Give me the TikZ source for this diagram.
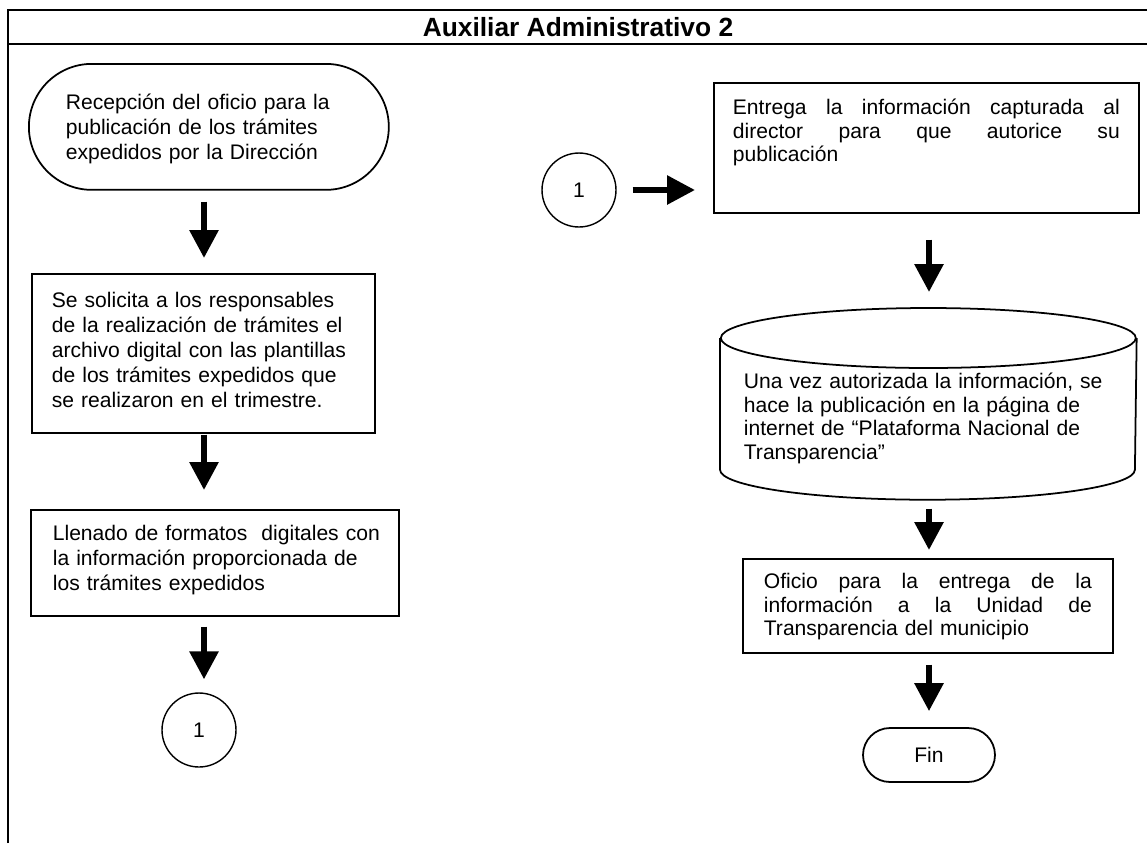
\documentclass[tikz,border=0pt]{standalone}
\usepackage{fontspec}
\setmainfont{Liberation Sans}
\usepackage{tikz}
\usetikzlibrary{arrows.meta, positioning, calc}

% one justified line inside a node with a text width
\newcommand{\jline}[1]{\makebox[\hsize][s]{\spaceskip=0pt\relax #1}}

\begin{document}
\begin{tikzpicture}[
  x=0.02cm, y=-0.02cm,
  stepbox/.style={draw, line width=1pt, anchor=north west, align=left,
                  inner ysep=0pt, font=\fontsize{12}{14.2}\selectfont},
  rightbox/.style={stepbox, font=\fontsize{12}{13.4}\selectfont},
  connector/.style={draw, circle, line width=0.8pt, minimum size=1.48cm,
                    inner sep=0pt, font=\fontsize{12}{14}\selectfont},
  flow/.style={-{Triangle[length=0.56cm, width=0.56cm]}, line width=3.4pt}
]

\useasboundingbox (0,0) rectangle (1147,843);

% frame and header
\draw[line width=0.8pt] (8,843) -- (8,10) -- (1147,10);
\draw[line width=1.4pt] (8,44) -- (1147,44);
\node[font=\fontsize{15}{18}\selectfont\bfseries] (title) at (578,27) {Auxiliar Administrativo 2};

\coordinate (colL) at (204,0);
\coordinate (colR) at (929,0);

% left column
\node[stepbox, rounded corners=1.26cm, inner xsep=0.74cm, text width=5.72cm,
      text height=0.92cm, text depth=1.6cm] (recepcion) at (28,63)
  {Recepción del oficio para la\\publicación de los trámites\\expedidos por la Dirección};

\node[stepbox, inner xsep=0.4cm, text width=6.06cm,
      text height=0.68cm, text depth=2.5cm] (solicita) at (31,273)
  {Se solicita a los responsables\\de la realización de trámites el\\archivo digital con las plantillas\\de los trámites expedidos que\\se realizaron en el trimestre.};

\node[stepbox, inner xsep=0.44cm, text width=6.48cm,
      text height=0.62cm, text depth=1.5cm] (llenado) at (30,509)
  {\mbox{Llenado de formatos\ \ digitales con}\\la información proporcionada de\\los trámites expedidos};

\node[connector] (salida) at (199,730) {1};

\draw[flow, shorten <=0.22cm, shorten >=0.3cm]  (recepcion.south -| colL) -- (solicita.north -| colL);
\draw[flow, shorten <=0.02cm, shorten >=0.38cm] (solicita.south -| colL)  -- (llenado.north -| colL);
\draw[flow, shorten <=0.2cm, shorten >=0.26cm]  (llenado.south -| colL)   -- (salida.north -| colL);

% right column
\node[connector] (entrada) at (579,190) {1};

\node[rightbox, inner xsep=0.38cm, text width=7.74cm,
      text height=0.64cm, text depth=1.96cm] (entrega) at (713,82)
  {\jline{Entrega la información capturada al}\\\jline{director para que autorice su}\\publicación};

\node[rightbox, draw=none, inner xsep=0.46cm, text width=7.38cm,
      text height=1.0cm, text depth=1.6cm] (publica) at (720,338)
  {Una vez autorizada la información, se\\hace la publicación en la página de\\internet de “Plataforma Nacional de\\Transparencia”};
\draw[line width=1pt] (publica.north west) -- (publica.south west)
  arc[start angle=180, end angle=360, x radius=4.15cm, y radius=0.6cm]
  -- (publica.north east);
\draw[line width=1pt] (publica.north) ellipse[x radius=4.15cm, y radius=0.6cm];

\node[rightbox, inner xsep=0.42cm, text width=6.56cm,
      text height=0.6cm, text depth=1.28cm] (oficio) at (742,558)
  {\jline{Oficio para la entrega de la}\\\jline{información a la Unidad de}\\Transparencia del municipio};

\node[draw, line width=1pt, rounded corners=0.54cm, minimum width=2.64cm,
      minimum height=1.08cm, font=\fontsize{12}{14}\selectfont] (fin) at (929,755) {Fin};

\draw[flow, shorten <=0.32cm, shorten >=0.36cm] (entrada.east) -- (entrega.west |- entrada.east);
\draw[flow, shorten <=0.52cm, shorten >=0.92cm] (entrega.south -| colR) -- (publica.north -| colR);
\draw[flow, shorten <=0.78cm, shorten >=0.16cm] (publica.south -| colR) -- (oficio.north -| colR);
\draw[flow, shorten <=0.22cm, shorten >=0.32cm] (oficio.south -| colR)  -- (fin.north);

\end{tikzpicture}
\end{document}
